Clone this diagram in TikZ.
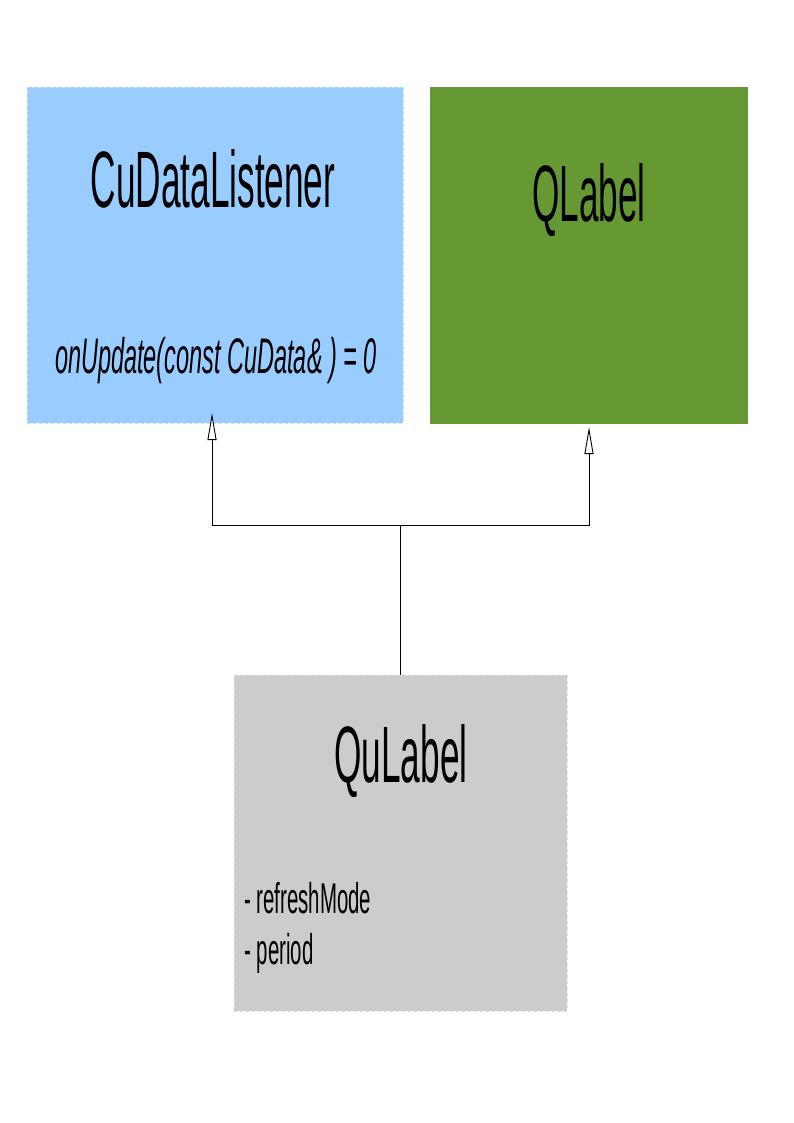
\documentclass[tikz,border=0pt]{standalone}
\usepackage{fontspec}
\setmainfont{Liberation Sans}
\usetikzlibrary{arrows.meta}
\definecolor{cdlblue}{HTML}{99CCFF}
\definecolor{qlgreen}{HTML}{669933}
\definecolor{qugray}{HTML}{CCCCCC}
\newcommand\titletext[1]{\fontsize{80}{96}\selectfont\scalebox{0.44}[1]{#1}}
\newcommand\optext[1]{\fontsize{50}{60}\selectfont\itshape\scalebox{0.47}[1]{#1}}
\newcommand\attrtext[1]{\fontsize{43}{52}\selectfont\scalebox{0.475}[1]{#1}}
\begin{document}
\begin{tikzpicture}[x=1pt,y=-1pt,
  classbox/.style={inner sep=0pt, anchor=north west},
  lbl/.style={inner sep=0pt, anchor=base},
  gen/.style={line width=0.9pt, -{Triangle[fill=white, length=27pt, width=9pt, line width=0.9pt]}},
  link/.style={line width=0.9pt}]
\useasboundingbox (0,0) rectangle (794,1123);
\node[classbox, fill=cdlblue, draw=cdlblue!60!white, dashed, line width=0.5pt, minimum width=376pt, minimum height=336pt] (cdl) at (27,87) {};
\node[classbox, fill=qlgreen, minimum width=318pt, minimum height=337pt] (ql) at (430,87) {};
\node[classbox, fill=qugray, draw=qugray!60!white, dashed, line width=0.5pt, minimum width=333pt, minimum height=336pt] (qu) at (234,675) {};
\node[lbl] (cdlname) at (213,208) {\titletext{CuDataListener}};
\node[lbl] (cdlop) at (216,373) {\optext{onUpdate(const CuData\& ) = 0}};
\node[lbl] (qlname) at (589,222) {\titletext{QLabel}};
\node[lbl] (quname) at (401,782) {\titletext{QuLabel}};
\node[lbl, anchor=base west] (qua1) at (244,913) {\attrtext{- refreshMode}};
\node[lbl, anchor=base west] (qua2) at (244,964) {\attrtext{- period}};
\coordinate (j) at (qu.north |- 0,525);
\coordinate (tipl) at (212,413);
\coordinate (tipr) at (589,427);
\draw[link] (qu.north) -- (j);
\draw[gen] (j) -| (tipl);
\draw[gen] (j) -| (tipr);
\end{tikzpicture}
\end{document}
